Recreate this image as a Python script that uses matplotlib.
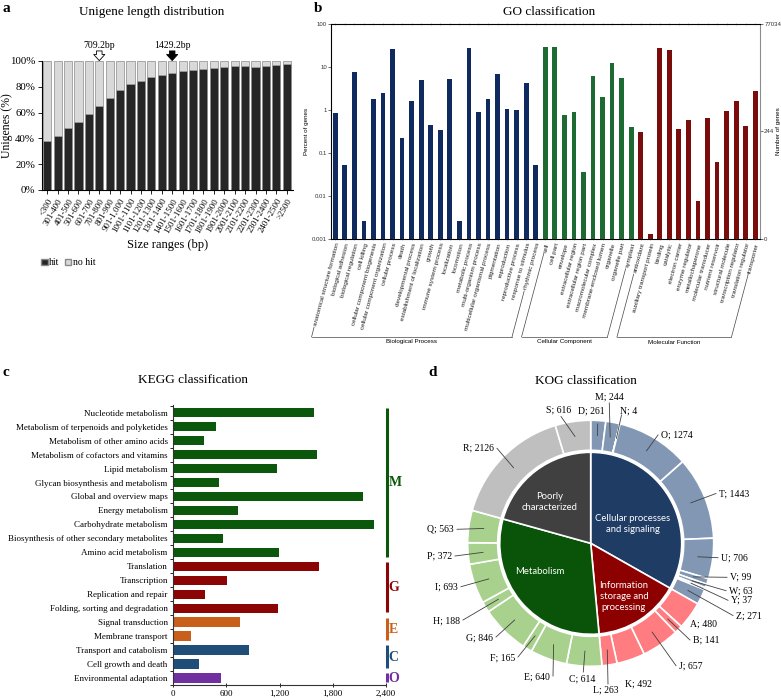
import matplotlib
matplotlib.use("Agg")
import matplotlib.pyplot as plt
import numpy as np
from matplotlib.lines import Line2D
from matplotlib.patches import Patch
from matplotlib.ticker import FuncFormatter, NullLocator
from matplotlib.transforms import IdentityTransform

W, H = 781, 700
SERIF = ["Liberation Serif", "DejaVu Serif"]
SANS = ["Liberation Sans", "DejaVu Sans"]
CALIB = ["Lato", "DejaVu Sans"]
plt.rcParams["font.family"] = SERIF

# ---------------- a: unigene length distribution ----------------
size_ranges = ["<300", "301-400", "401-500", "501-600", "601-700", "701-800",
               "801-900", "901-1,000", "1001-1100", "1101-1200", "1201-1300",
               "1301-1400", "1401-1500", "1501-1600", "1601-1700", "1701-1800",
               "1801-1900", "1901-2000", "2001-2100", "2101-2200", "2201-2300",
               "2301-2400", "2401-2500", ">2500"]
hit_pct = [38.3, 41.7, 48.2, 53.1, 58.8, 65.3, 71.5, 77.7, 82.4, 84.2, 87.6, 88.9,
           90.7, 92.2, 93.0, 93.5, 94.8, 95.1, 96.4, 96.1, 95.6, 96.4, 97.2, 97.7]
marks = [(5, "709.2bp", "white"), (12, "1429.2bp", "black")]   # (bar index, text, arrow fill)

# ---------------- b: GO classification ----------------
go_terms = ["anatomical structure formation", "biological adhesion", "biological regulation",
            "cell killing", "cellular component biogenesis", "cellular component organization",
            "cellular process", "death", "developmental process", "establishment of localization",
            "growth", "immune system process", "localization", "locomotion", "metabolic process",
            "multi-organism process", "multicellular organismal process", "pigmentation",
            "reproduction", "reproductive process", "response to stimulus", "rhythmic process",
            "cell", "cell part", "envelope", "extracellular region", "extracellular region part",
            "macromolecular complex", "membrane-enclosed lumen", "organelle", "organelle part",
            "symplast",
            "antioxidant", "auxiliary transport protein", "binding", "catalytic", "electron carrier",
            "enzyme regulator", "metallochaperone", "molecular transducer", "nutrient reservoir",
            "structural molecule", "transcription regulator", "translation regulator", "transporter"]
go_pct = [0.84, 0.052, 7.8, 0.0026, 1.84, 2.44, 26.0, 0.22, 1.62, 5.1, 0.45, 0.35, 5.3,
          0.0026, 27.7, 0.9, 1.84, 6.75, 1.05, 0.98, 4.25, 0.054,
          28.7, 28.7, 0.77, 0.88, 0.036, 6.2, 2.0, 12.2, 5.55, 0.41,
          0.31, 0.0013, 27.7, 24.8, 0.37, 0.575, 0.0078, 0.65, 0.061, 0.95, 1.62, 0.43, 2.8]
go_groups = ["Biological Process", "Cellular Component", "Molecular Function"]
go_group_sizes = [22, 10, 13]
go_colors = ["#0f2a5e", "#1d6b33", "#7b0c0c"]
go_total_genes = 77034
go_mid_genes = 244

# ---------------- c: KEGG classification ----------------
kegg_terms = ["Nucleotide metabolism", "Metabolism of terpenoids and polyketides",
              "Metabolism of other amino acids", "Metabolism of cofactors and vitamins",
              "Lipid metabolism", "Glycan biosynthesis and metabolism",
              "Global and overview maps", "Energy metabolism", "Carbohydrate metabolism",
              "Biosynthesis of other secondary metabolites", "Amino acid metabolism",
              "Translation", "Transcription", "Replication and repair",
              "Folding, sorting and degradation", "Signal transduction", "Membrane transport",
              "Transport and catabolism", "Cell growth and death", "Environmental adaptation"]
kegg_counts = [1585, 479, 351, 1619, 1177, 517, 2140, 732, 2268, 558, 1189,
               1649, 608, 355, 1185, 758, 200, 860, 287, 543]
kegg_groups = ["M", "G", "E", "C", "O"]
kegg_group_sizes = [11, 4, 2, 2, 1]
kegg_colors = ["#0b570b", "#8b0505", "#c8601c", "#1f4e79", "#7030a0"]

# ---------------- d: KOG classification ----------------
kog_classes = ["Cellular processes\nand signaling", "Information\nstorage and\nprocessing",
               "Metabolism", "Poorly\ncharacterized"]
kog_letters = ["D", "M", "N", "O", "T", "U", "V", "W", "Y", "Z",
               "A", "B", "J", "K", "L",
               "C", "E", "F", "G", "H", "I", "P", "Q",
               "R", "S"]
kog_counts = [261, 244, 4, 1274, 1443, 706, 99, 63, 37, 271,
              480, 141, 657, 492, 263,
              614, 640, 165, 846, 188, 693, 372, 563,
              2126, 616]
kog_class_sizes = [10, 5, 8, 2]
kog_inner_colors = ["#1f3c64", "#8c0000", "#0a540a", "#404040"]
kog_outer_colors = ["#8197b4", "#ff7c80", "#a9d18e", "#bfbfbf"]


def box(x0, y0, x1, y1):
    """pixel box (origin top-left) -> figure rect"""
    return [x0 / W, 1 - y1 / H, (x1 - x0) / W, (y1 - y0) / H]


fig = plt.figure(figsize=(W / 100, H / 100), dpi=100)


def ftext(x, y, s, **kw):
    fig.text(x / W, 1 - y / H, s, **kw)


# ======== panel a ========
ax = fig.add_axes(box(42, 61, 293, 190))
xa = np.arange(len(size_ranges))
nohit = [100 - v for v in hit_pct]
ax.bar(xa, hit_pct, width=0.78, color="#262626", edgecolor="#8a8a8a", lw=0.5, clip_on=False)
ax.bar(xa, nohit, bottom=hit_pct, width=0.78, color="#d9d9d9", edgecolor="#8a8a8a", lw=0.5,
       clip_on=False)
ax.set_xlim(-0.5, 23.6)
ax.set_ylim(0, 100)
ax.set_yticks(range(0, 101, 20))
ax.set_yticklabels([f"{v}%" for v in range(0, 101, 20)], fontsize=7.8)
ax.set_xticks(xa)
ax.set_xticklabels(size_ranges, rotation=60, ha="right", rotation_mode="anchor", fontsize=6.3)
ax.tick_params(axis="both", length=3, width=0.6, pad=2)
for s in ("top", "right"):
    ax.spines[s].set_visible(False)
ax.set_ylabel("Unigenes (%)", fontsize=8.5)
ax.yaxis.set_label_coords((13 - 42) / 251, 0.5)
ax.set_xlabel("Size ranges (bp)", fontsize=9, labelpad=3)
for i, txt, fc in marks:
    ax.annotate("", xy=(i, 100.3), xytext=(i, 107.8), annotation_clip=False,
                arrowprops=dict(arrowstyle="simple,head_length=0.55,head_width=1.0,tail_width=0.5",
                                fc=fc, ec="black", lw=0.6, mutation_scale=8,
                                shrinkA=0, shrinkB=0))
    ax.text(i, 108.2, txt, ha="center", va="bottom", fontsize=7, clip_on=False)
ftext(151.5, 12, "Unigene length distribution", fontsize=9.5, ha="center", va="center")
fig.legend([Patch(fc="#262626", ec="#8a8a8a"), Patch(fc="#d9d9d9", ec="#8a8a8a")],
           ["hit", "no hit"], loc="center left", bbox_to_anchor=(41 / W, 1 - 263 / H),
           ncol=2, frameon=False, fontsize=7, handlelength=0.7, handleheight=0.7,
           handletextpad=0.15, columnspacing=0.5, borderpad=0, borderaxespad=0)

# ======== panel b ========
axb = fig.add_axes(box(331, 24, 760, 239))
xg = np.arange(len(go_terms))
bar_cols = []
for c, n in zip(go_colors, go_group_sizes):
    bar_cols += [c] * n
axb.bar(xg, go_pct, width=0.5, color=bar_cols)
axb.set_yscale("log")
axb.set_ylim(0.001, 100)
axb.set_xlim(-0.45, len(go_terms) - 0.5)
axb.set_yticks([0.001, 0.01, 0.1, 1, 10, 100])
axb.set_yticklabels(["0.001", "0.01", "0.1", "1", "10", "100"], family=SANS)
axb.yaxis.set_minor_locator(NullLocator())
axb.tick_params(axis="y", labelsize=4.3, length=2, width=0.4, pad=1, labelcolor="#333333")
axb.set_xticks(xg)
xlabs = axb.set_xticklabels(go_terms, rotation=75, ha="right", rotation_mode="anchor",
                            fontsize=4.6, family=SANS, color="#222222")
axb.tick_params(axis="x", length=2, width=0.4, pad=1.5, top=True, direction="inout",
                color="#888888")
for s in axb.spines.values():
    s.set_color("#8c8c8c")
    s.set_linewidth(0.6)
axb.set_ylabel("Percent of genes", fontsize=4.5, family=SANS, labelpad=2)
axr = axb.twinx()
axr.set_yscale("log")
axr.set_ylim(0.001, 100)
axr.set_yticks([0.001, go_mid_genes / go_total_genes * 100, 100])
axr.set_yticklabels(["0", str(go_mid_genes), str(go_total_genes)], family=SANS)
axr.yaxis.set_minor_locator(NullLocator())
axr.tick_params(axis="y", labelsize=4.3, length=2, width=0.4, pad=1, labelcolor="#333333")
axr.spines["right"].set_color("#8c8c8c")
axr.set_ylabel("Number of genes", fontsize=4.5, family=SANS)
axr.yaxis.set_label_coords((776 - 331) / 429, 0.5)
ftext(549, 12, "GO classification", fontsize=9.5, ha="center", va="center")

# ======== panel c ========
axc = fig.add_axes(box(173.3, 405, 385.7, 685))
yk = np.arange(len(kegg_terms))
kcols = []
for c, n in zip(kegg_colors, kegg_group_sizes):
    kcols += [c] * n
axc.barh(yk, kegg_counts, height=0.67, color=kcols)
axc.set_ylim(len(kegg_terms) - 1 + 0.48, -0.55)
axc.set_xlim(0, 2400)
axc.set_xticks([0, 600, 1200, 1800, 2400])
axc.xaxis.set_major_formatter(FuncFormatter(lambda v, p: f"{int(v):,}"))
axc.set_yticks(yk)
axc.set_yticklabels(kegg_terms, fontsize=6.5)
axc.set_yticks(np.arange(-0.5, len(kegg_terms), 1), minor=True)
axc.tick_params(axis="y", which="major", length=0, pad=4)
axc.tick_params(axis="y", which="minor", length=2.5, width=0.6)
axc.tick_params(axis="x", labelsize=6.5, length=3, width=0.6, direction="inout", pad=2)
for s in ("top", "right"):
    axc.spines[s].set_visible(False)
for s in ("left", "bottom"):
    axc.spines[s].set_color("#333333")
    axc.spines[s].set_linewidth(0.8)
start = 0
for g, n, c in zip(kegg_groups, kegg_group_sizes, kegg_colors):
    end = start + n - 1
    axc.plot([2412, 2412], [start - 0.33, end + 0.3], color=c, lw=2.2, clip_on=False,
             solid_capstyle="butt")
    axc.text(2430, (start + end) / 2, g, color=c, fontsize=10, fontweight="bold",
             ha="left", va="center", clip_on=False)
    start = end + 1
ftext(193, 380, "KEGG classification", fontsize=9.5, ha="center", va="center")

# ======== panel d ========
cx, cy, half = 590.7, 543.3, 170
axd = fig.add_axes(box(cx - half, cy - half, cx + half, cy + half))
inner_counts = []
outer_cols = []
k = 0
for ci, n in enumerate(kog_class_sizes):
    inner_counts.append(sum(kog_counts[k:k + n]))
    outer_cols += [kog_outer_colors[ci]] * n
    k += n
axd.pie(inner_counts, radius=91, startangle=90, counterclock=False,
        colors=kog_inner_colors, wedgeprops=dict(edgecolor="white", linewidth=1.2))
axd.pie(kog_counts, radius=123, startangle=90, counterclock=False,
        colors=outer_cols, wedgeprops=dict(width=30, edgecolor="white", linewidth=1.2))
axd.set_xlim(-half, half)
axd.set_ylim(-half, half)
axd.set_aspect("equal")
axd.axis("off")

# inner labels (pixel positions)
inner_pos = [(632.7, 523.7), (624.0, 596.3), (540.0, 571.7), (550.0, 501.7)]
for name, (px, py) in zip(kog_classes, inner_pos):
    axd.text(px - cx, cy - py, name, color="white", fontsize=6.8, family=CALIB,
             ha="center", va="center", linespacing=1.25)

# outer labels: letter -> (line end px, py, text px, py, ha, va)
lab = {
    "D": (597.7, 424, 591, 410.7, "center", "center"),
    "M": (609.3, 403, 609.3, 397.3, "center", "center"),
    "N": (621.5, 415, 629, 410.7, "center", "center"),
    "O": (658, 435, 661, 435, "left", "center"),
    "T": (716, 493.5, 719, 494, "left", "center"),
    "U": (718, 557.7, 721, 557.7, "left", "center"),
    "V": (727, 577.3, 730, 577.3, "left", "center"),
    "W": (726, 590.7, 729, 590.7, "left", "center"),
    "Y": (728, 600.3, 731, 600.3, "left", "center"),
    "Z": (733, 615.5, 736, 616.3, "left", "center"),
    "A": (None, None, 703.3, 624, "center", "center"),
    "B": (690, 640, 693, 640, "left", "center"),
    "J": (676, 665.7, 679, 665.7, "left", "center"),
    "K": (None, None, 638.3, 684, "center", "center"),
    "L": (608, 684, 606, 690, "center", "center"),
    "C": (583.3, 672, 581.7, 679.3, "center", "center"),
    "E": (553, 676, 550, 677.3, "right", "center"),
    "F": (518, 657, 515, 658.3, "right", "center"),
    "G": (496, 637, 493, 637.7, "right", "center"),
    "H": (463, 620, 460, 621, "right", "center"),
    "I": (461, 586.7, 458, 586.7, "right", "center"),
    "P": (455, 556, 452, 556, "right", "center"),
    "Q": (457, 529.3, 454, 529.3, "right", "center"),
    "R": (497, 448.3, 494, 448.3, "right", "center"),
    "S": (561, 416.5, 558.3, 410, "center", "center"),
}
total = sum(kog_counts)
cum = 0
for letter, cnt in zip(kog_letters, kog_counts):
    theta = np.deg2rad(360 * (cum + cnt / 2) / total)
    cum += cnt
    lx, ly, tx, ty, ha, va = lab[letter]
    if lx is not None:
        sx, sy = 108 * np.sin(theta), 108 * np.cos(theta)
        axd.plot([sx, lx - cx], [sy, cy - ly], color="#404040", lw=0.6, clip_on=False)
    axd.text(tx - cx, cy - ty, f"{letter}; {cnt}", fontsize=7, ha=ha, va=va, clip_on=False)
ftext(586, 381, "KOG classification", fontsize=9.5, ha="center", va="center")

# panel letters
for ch, (px, py) in zip("abcd", [(6, 9), (318, 8), (6, 373), (433, 372)]):
    ftext(px, py, ch, fontsize=11, fontweight="bold", ha="center", va="center")

# ---- GO group brackets: need label extents ----
fig.canvas.draw()
cos75, sin75 = np.cos(np.deg2rad(75)), np.sin(np.deg2rad(75))
bbs = [t.get_window_extent() for t in xlabs]
yb = H - 337                              # bracket line, display coords (y up)
ident = IdentityTransform()


def foot(b):
    sx, sy = b.x0 + 1.5, b.y0 + 1
    ex = sx - cos75 * (sy - yb) / sin75
    return sx, sy, ex


start = 0
for g, n in zip(go_groups, go_group_sizes):
    first, last = start, start + n - 1
    ends = []
    for idx in (first, last):
        sx, sy, ex = foot(bbs[idx])
        if sy > yb + 1:
            fig.add_artist(Line2D([sx - 0.5, ex], [sy - 1.5, yb], color="#444444", lw=0.5,
                                  transform=ident))
        ends.append(ex)
    fig.add_artist(Line2D([ends[0], ends[1]], [yb, yb], color="#444444", lw=0.5,
                          transform=ident))
    fig.text((ends[0] + ends[1]) / 2 / W, (yb - 5) / H, g, fontsize=4.5, family=SANS,
             ha="center", va="center")
    start += n

fig.savefig("out.png", dpi=100)
